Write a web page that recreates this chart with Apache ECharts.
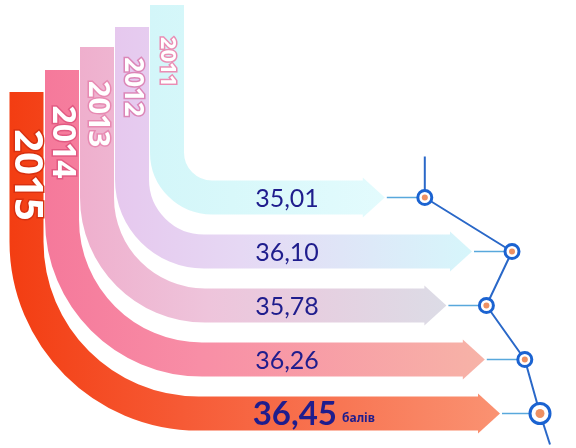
<!DOCTYPE html>
<html><head><meta charset="utf-8">
<script src="https://cdn.jsdelivr.net/npm/echarts@6/dist/echarts.min.js"></script>
<style>html,body{margin:0;padding:0;background:#fff}#c{width:576px;height:448px}</style>
</head><body><div id="c"></div>
<script>
// ---- data ----
const years = ['2011', '2012', '2013', '2014', '2015'];
const scores = [35.01, 36.10, 35.78, 36.26, 36.45];
const unitLabel = 'балів';

// ---- layout / style (not data) ----
const layout = {
  stripX: [167, 132, 97, 62, 26.5],
  stripTop: [5, 27, 47, 70, 92],
  corner: [45, 72, 108, 140, 172],
  yearY: [62, 87, 114, 142, 175],
  yearSize: [22, 26, 29, 32, 40],
  width: 34,
  tipGap: 40,
  headLen: 22
};
const palette = [
  { stops: ['#d3f6f9', '#d8f8fa', '#e3fbfd'], yearBorder: '#ea8db4' },
  { stops: ['#e6c8ee', '#e6d8f4', '#d6f6fb'], yearBorder: '#dc86b8' },
  { stops: ['#efafcd', '#eec4db', '#dcdce6'], yearBorder: '#e78ab2' },
  { stops: ['#f5799b', '#f88ea6', '#f7b3a7'], yearBorder: '#e25a82' },
  { stops: ['#f33d12', '#f65a35', '#fa9272'], yearBorder: '#d83010' }
];
const fmt = v => v.toFixed(2).replace('.', ',');

const chart = echarts.init(document.getElementById('c'), null, { renderer: 'canvas' });

function renderItem(params, api) {
  const i = params.dataIndex;
  const p = api.coord([api.value(0), api.value(1)]);
  const dotX = p[0], yc = p[1];
  const tip = dotX - layout.tipGap;
  const bodyEnd = tip - layout.headLen;
  const xc = layout.stripX[i], top = layout.stripTop[i], r = layout.corner[i], w = layout.width;
  const k = 0.5523;
  const d = 'M ' + xc + ' ' + top + ' L ' + xc + ' ' + (yc - r) +
    ' C ' + xc + ' ' + (yc - r + k * r) + ' ' + (xc + r - k * r) + ' ' + yc + ' ' + (xc + r) + ' ' + yc +
    ' L ' + (bodyEnd + 1) + ' ' + yc;
  const st = palette[i].stops;
  const grad = () => new echarts.graphic.LinearGradient(xc - w / 2, 0, tip, 0, [
    { offset: 0, color: st[0] }, { offset: 0.35, color: st[1] }, { offset: 1, color: st[2] }
  ], true);
  const children = [
    { type: 'path', shape: { pathData: d }, style: { fill: 'none', stroke: grad(), lineWidth: w } },
    { type: 'polygon', shape: { points: [[bodyEnd, yc - w / 2 - 3], [tip, yc], [bodyEnd, yc + w / 2 + 3]] }, style: { fill: grad() } },
    { type: 'line', shape: { x1: tip + 2, y1: yc, x2: dotX - 6, y2: yc }, style: { stroke: '#58a8dc', lineWidth: 1.5 } },
    { type: 'text', x: xc, y: layout.yearY[i], rotation: -Math.PI / 2,
      style: { text: years[i], fill: '#ffffff', stroke: palette[i].yearBorder, lineWidth: 3, strokeFirst: true,
        fontSize: layout.yearSize[i], fontWeight: 'bold', fontFamily: 'Noto Sans', align: 'center', verticalAlign: 'middle' } }
  ];
  if (i === scores.length - 1) {
    children.push({ type: 'text', x: 337, y: yc + 1,
      style: { text: fmt(scores[i]), fill: '#1f1d8d', fontSize: 33, fontWeight: 'bold', fontFamily: 'Lato', align: 'right', verticalAlign: 'middle' } });
    children.push({ type: 'text', x: 342, y: yc + 5,
      style: { text: unitLabel, fill: '#1f1d8d', fontSize: 12, fontWeight: 'bold', fontFamily: 'Noto Sans', align: 'left', verticalAlign: 'middle' } });
    children.push({ type: 'line', shape: { x1: dotX, y1: yc, x2: dotX + 10, y2: yc + 31 }, style: { stroke: '#2a68c8', lineWidth: 2 } });
  } else {
    children.push({ type: 'text', x: 287, y: yc + 1,
      style: { text: fmt(scores[i]), fill: '#1f1d8d', fontSize: 25, fontFamily: 'Lato', align: 'center', verticalAlign: 'middle' } });
  }
  if (i === 0) {
    children.push({ type: 'line', shape: { x1: dotX, y1: yc, x2: dotX, y2: yc - 41 }, style: { stroke: '#2a68c8', lineWidth: 2 } });
  }
  return { type: 'group', children: children };
}

const pts = scores.map((v, i) => [v, years[i]]);
chart.setOption({
  animation: false,
  grid: { left: 0, right: 0, top: 170.5, bottom: 7.5 },
  xAxis: { type: 'value', min: 29.7, max: 36.9, show: false },
  yAxis: { type: 'category', data: years, inverse: true, show: false },
  series: [
    { type: 'custom', renderItem: renderItem, data: pts, z: 1, clip: false, silent: true },
    { type: 'line', data: pts, z: 3, silent: true,
      lineStyle: { color: '#2a68c8', width: 2 },
      symbol: 'circle',
      symbolSize: (v, p) => p.dataIndex === scores.length - 1 ? 20 : 14,
      itemStyle: { color: '#ffffff', borderColor: '#1b63d1', borderWidth: 3 } },
    { type: 'scatter', data: pts, z: 4, silent: true,
      symbolSize: (v, p) => p.dataIndex === scores.length - 1 ? 9 : 6,
      itemStyle: { color: '#e8743b' } }
  ]
});
</script></body></html>
